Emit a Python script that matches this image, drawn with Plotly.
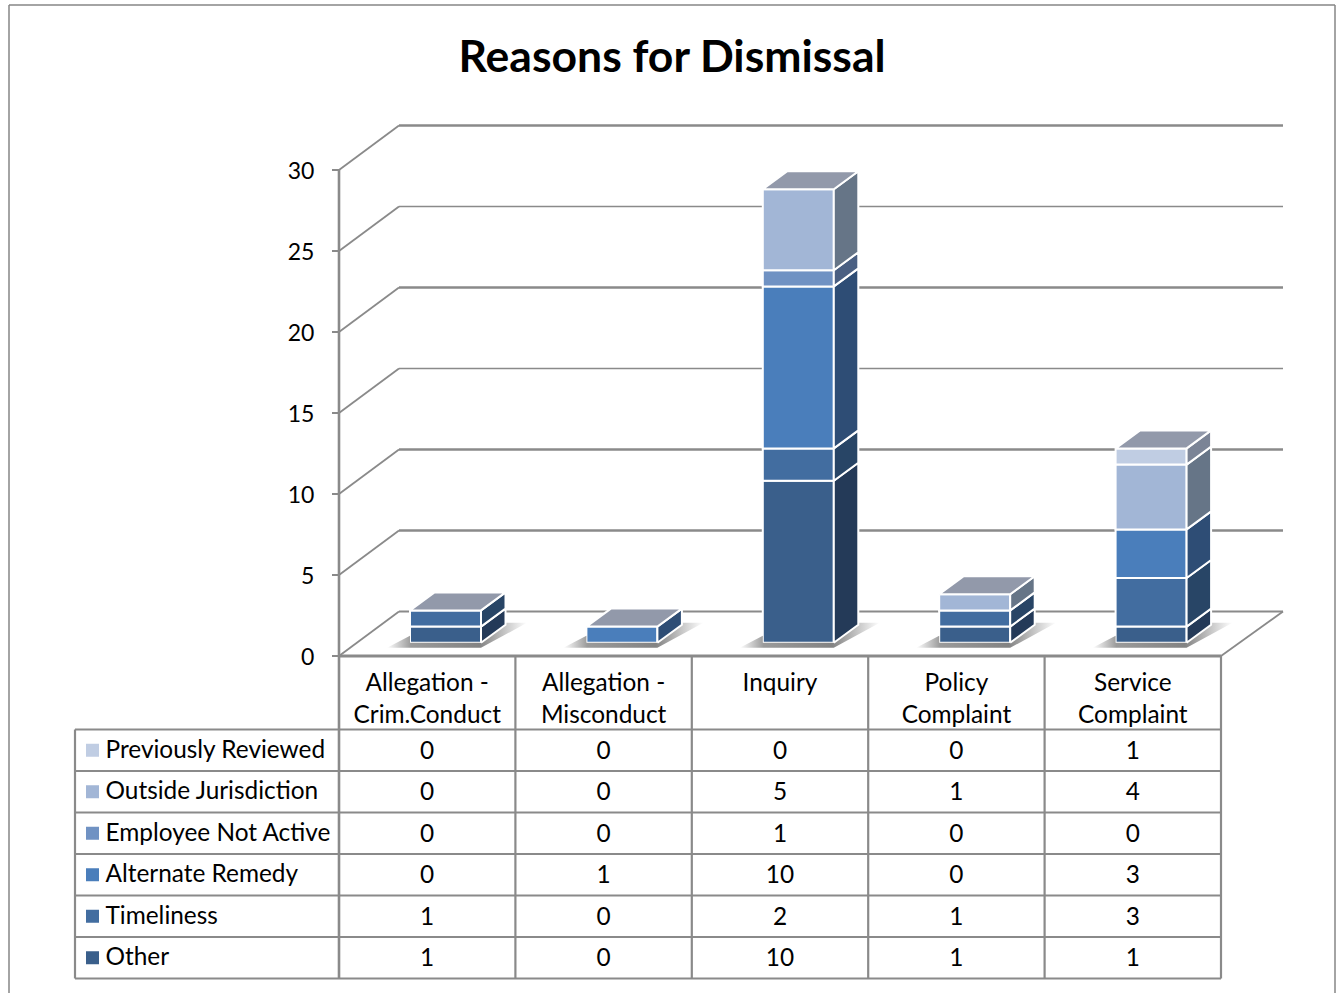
import plotly.graph_objects as go

# Chart data
categories = ["Allegation -<br>Crim.Conduct", "Allegation -<br>Misconduct", "Inquiry",
              "Policy<br>Complaint", "Service<br>Complaint"]
other = [1, 0, 10, 1, 1]
timeliness = [1, 0, 2, 1, 3]
alternate_remedy = [0, 1, 10, 0, 3]
employee_not_active = [0, 0, 1, 0, 0]
outside_jurisdiction = [0, 0, 5, 1, 4]
previously_reviewed = [0, 0, 0, 0, 1]
y_ticks = [0, 5, 10, 15, 20, 25, 30]

# Stack order, bottom to top: name, values, front colour, side colour
series = [
    ("Other", other, "#3A5F8B", "#243A58"),
    ("Timeliness", timeliness, "#426DA0", "#284566"),
    ("Alternate Remedy", alternate_remedy, "#4A7EBB", "#2E4D75"),
    ("Employee Not Active", employee_not_active, "#7092C3", "#4A5F82"),
    ("Outside Jurisdiction", outside_jurisdiction, "#A2B6D6", "#667587"),
    ("Previously Reviewed", previously_reviewed, "#C0CDE3", "#7B8496"),
]

W, H = 1340, 993
CAT_PX, UNIT_PX = 176.4, 16.2
X0_PX, Y0_PX = 339, 656


def fx(px):
    return (px - X0_PX) / CAT_PX


def fy(px):
    return (Y0_PX - px) / UNIT_PX


def dx(px):
    return px / CAT_PX


def dy(px):
    return px / UNIT_PX


GRID = "#8A8A8A"
FONT = "Lato"
TEXT_SIZE = 24.4
TICK_SIZE = 23

# Oblique projection of the wall, floor and bars
WALL_DX, WALL_DY = dx(60), dy(44.5)
BAR_DX, BAR_DY = dx(24.5), dy(18)
BAR_LEFT, BAR_W = dx(71), dx(71)
FLOOR = dy(13.2)

fig = go.Figure()
shapes = []


def seg(x0, y0, x1, y1, width=2, color=GRID, layer="below"):
    shapes.append(dict(type="line", xref="x", yref="y", x0=x0, y0=y0, x1=x1, y1=y1,
                       line=dict(color=color, width=width), layer=layer))


# Wall gridlines with their oblique run back from the axis
grid_widths = [1.8, 2.4, 2.6, 1.7, 2.6, 1.7, 2.4]
back_right = fx(1283)
for v, w in zip(y_ticks, grid_widths):
    seg(0, v, WALL_DX, v + WALL_DY, 1.8)
    seg(WALL_DX, v + WALL_DY, back_right, v + WALL_DY, w)
seg(5, 0, back_right, WALL_DY, 1.8)
seg(0, 0, 5, 0, 3)
seg(0, 0, 0, 30, 2.6)

# Floor shadows
for i in range(5):
    L = i + BAR_LEFT
    R = L + BAR_W
    fig.add_trace(go.Scatter(
        x=[L - dx(23), R, R + dx(46), R + BAR_DX, R, L, L, L - dx(23)],
        y=[FLOOR - dy(5), FLOOR - dy(5), FLOOR + dy(20), FLOOR + dy(20), FLOOR, FLOOR, FLOOR + dy(7), FLOOR - dy(5)],
        mode="lines", line=dict(width=0), fill="toself",
        fillgradient=dict(type="horizontal", colorscale=[
            [0, "rgba(100,100,100,0)"], [0.17, "rgba(100,100,100,0.65)"],
            [0.66, "rgba(100,100,100,0.8)"], [1, "rgba(100,100,100,0)"]]),
        hoverinfo="skip", showlegend=False))

# Front faces and side faces of each stacked segment
x_center = [i + BAR_LEFT + BAR_W / 2 for i in range(5)]
cum = [FLOOR] * 5
for name, vals, front, side in series:
    bases = list(cum)
    fig.add_trace(go.Bar(
        x=x_center, y=[v if v else None for v in vals], base=bases, width=BAR_W, name=name,
        marker=dict(color=front, line=dict(color="white", width=2)),
        showlegend=False, hoverinfo="skip"))
    sx, sy = [], []
    for i, v in enumerate(vals):
        if not v:
            continue
        R = i + BAR_LEFT + BAR_W
        b = bases[i]
        sx += [R, R + BAR_DX, R + BAR_DX, R, R, None]
        sy += [b, b + BAR_DY, b + v + BAR_DY, b + v, b, None]
    fig.add_trace(go.Scatter(x=sx, y=sy, mode="lines", fill="toself", fillcolor=side,
                             line=dict(color="white", width=2), hoverinfo="skip", showlegend=False))
    cum = [c + v for c, v in zip(cum, vals)]

# Top caps
tx, ty = [], []
for i in range(5):
    L = i + BAR_LEFT
    R = L + BAR_W
    t = cum[i]
    tx += [L, R, R + BAR_DX, L + BAR_DX, L, None]
    ty += [t, t, t + BAR_DY, t + BAR_DY, t, None]
fig.add_trace(go.Scatter(x=tx, y=ty, mode="lines", fill="toself", fillcolor="#9299AA",
                         line=dict(color="white", width=2), hoverinfo="skip", showlegend=False))

# Data table below the plot
row_px = [729.5, 771, 812.5, 854, 895.5, 937, 978.5]
table_left = fx(75)
for p in row_px:
    seg(table_left, fy(p), 5, fy(p), 2.2)
seg(table_left, fy(row_px[0]), table_left, fy(row_px[-1]), 2.2)
seg(0, 0, 0, fy(row_px[-1]), 2.6)
for c in range(1, 6):
    seg(c, 0, c, fy(row_px[-1]), 2.2)

for r, (name, vals, front, side) in enumerate(reversed(series)):
    ymid = (row_px[r] + row_px[r + 1]) / 2
    fig.add_trace(go.Scatter(
        x=[c + 0.5 for c in range(5)], y=[fy(ymid + 2.4)] * 5, mode="text", text=[str(v) for v in vals],
        textposition="middle center", textfont=dict(family=FONT, size=TEXT_SIZE, color="black"),
        hoverinfo="skip", showlegend=False))
    fig.add_trace(go.Scatter(
        x=[fx(92.5)], y=[fy(ymid)], mode="markers", marker=dict(symbol="square", size=13, color=front),
        hoverinfo="skip", showlegend=False))
    fig.add_trace(go.Scatter(
        x=[fx(105.5)], y=[fy(ymid + 1.6)], mode="text", text=[name], textposition="middle right",
        textfont=dict(family=FONT, size=TEXT_SIZE, color="black"),
        hoverinfo="skip", showlegend=False))

# Page frame
for x in (9, 1335):
    shapes.append(dict(type="line", xref="paper", yref="paper", x0=x / W, x1=x / W, y0=0, y1=1 - 5 / H,
                       line=dict(color="#868686", width=1.5), layer="below"))
shapes.append(dict(type="line", xref="paper", yref="paper", x0=9 / W, x1=1335 / W, y0=1 - 5 / H, y1=1 - 5 / H,
                   line=dict(color="#868686", width=1.5), layer="below"))

fig.update_layout(
    width=W, height=H, autosize=False,
    margin=dict(l=0, r=0, t=0, b=0, pad=0),
    paper_bgcolor="white", plot_bgcolor="white",
    barmode="overlay", showlegend=False, shapes=shapes,
    font=dict(family=FONT, color="black"),
    title=dict(text="<b>Reasons for Dismissal</b>", x=672 / W, xanchor="center",
               y=1 - 56 / H, yanchor="middle", font=dict(family=FONT, size=44.5, color="black")),
    xaxis=dict(range=[fx(0), fx(W)], showgrid=False, zeroline=False, showline=False, ticks="",
               tickmode="array", tickvals=[c + 0.5 for c in range(5)], ticktext=categories,
               tickfont=dict(family=FONT, size=TEXT_SIZE, color="black"),
               anchor="free", position=(H - Y0_PX) / H, ticklabelstandoff=10, fixedrange=True),
    yaxis=dict(range=[fy(H), fy(0)], showgrid=False, zeroline=False, showline=False,
               ticks="outside", ticklen=7, tickwidth=1.5, tickcolor=GRID,
               tickmode="array", tickvals=y_ticks, ticktext=[str(v) for v in y_ticks],
               tickfont=dict(family=FONT, size=TICK_SIZE, color="black"),
               anchor="free", position=X0_PX / W, ticklabelstandoff=13, ticklabelshift=1,
               fixedrange=True),
)

fig.write_html("out.html")
